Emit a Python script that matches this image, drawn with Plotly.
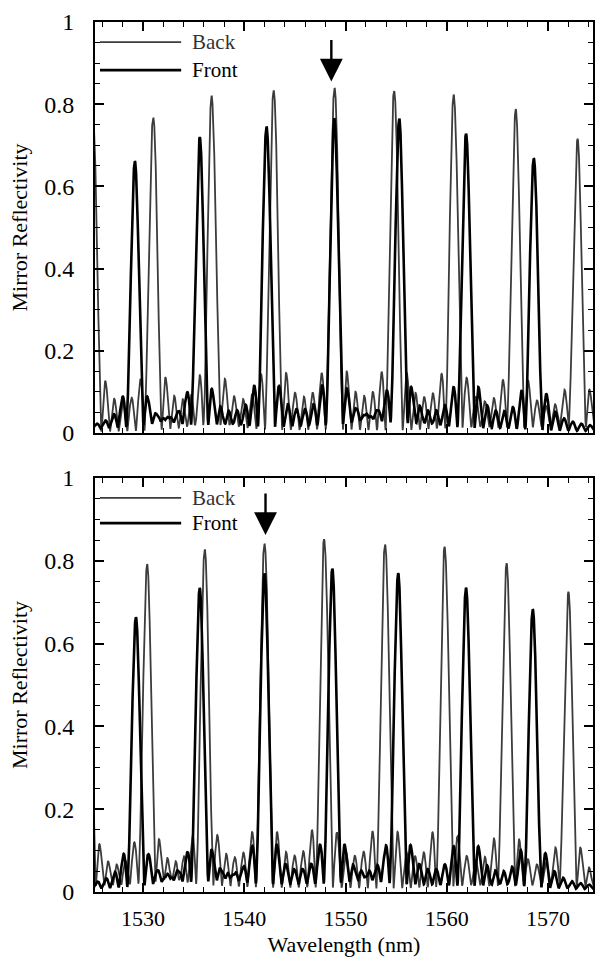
import numpy as np
import plotly.graph_objects as go
from plotly.subplots import make_subplots

# ---- data (peak wavelengths in nm, peak reflectivity) ----
top_back_centers = [1525.05, 1531.0, 1536.8, 1542.9, 1548.9, 1554.8, 1560.7, 1566.8, 1572.9]
top_back_heights = [0.76, 0.76, 0.80, 0.825, 0.83, 0.825, 0.81, 0.775, 0.70]
top_front_centers = [1529.2, 1535.6, 1542.2, 1548.9, 1555.3, 1561.9, 1568.6]
top_front_heights = [0.645, 0.70, 0.73, 0.745, 0.74, 0.715, 0.66]

bot_back_centers = [1524.5, 1530.4, 1536.1, 1542.0, 1547.9, 1553.9, 1559.8, 1565.9, 1572.0]
bot_back_heights = [0.72, 0.77, 0.81, 0.83, 0.84, 0.83, 0.82, 0.78, 0.71]
bot_front_centers = [1529.3, 1535.6, 1542.0, 1548.7, 1555.2, 1561.9, 1568.5]
bot_front_heights = [0.65, 0.71, 0.75, 0.76, 0.75, 0.72, 0.67]

arrow_top = (1548.6, 0.96, 0.855)      # x, tail y, tip y
arrow_bot = (1542.1, 0.966, 0.862)

x_ticks = [1530, 1540, 1550, 1560, 1570]
y_ticks = [0, 0.2, 0.4, 0.6, 0.8, 1]
y_tick_text = ["0", "0.2", "0.4", "0.6", "0.8", "1"]
series_names = ["Back", "Front"]

# channel line shape (grating-like main lobe with side lobes)
LOBE_WIDTH = 0.85
LOBE_POWER = 1.35
lam = np.arange(1524.0, 1576.0, 0.01)


def spectrum(centers, heights):
    r = np.zeros_like(lam)
    for c, h in zip(centers, heights):
        r += h * np.abs(np.sinc((lam - c) / LOBE_WIDTH)) ** LOBE_POWER
    return r


FONT = "Liberation Serif, Times New Roman, serif"
X_RANGE = [1525.26, 1574.44]
BACK_COLOR = "#3c3c3c"
XTICK_FONT = dict(family=FONT, size=22, color="black")
YTICK_FONT = dict(family=FONT, size=24, color="black")
TITLE_FONT = dict(family=FONT, size=22, color="black")

fig = make_subplots(rows=2, cols=1, shared_xaxes=False, vertical_spacing=0.0)

panels = [
    (1, top_back_centers, top_back_heights, top_front_centers, top_front_heights),
    (2, bot_back_centers, bot_back_heights, bot_front_centers, bot_front_heights),
]

for row, bc, bh, fc, fh in panels:
    fig.add_trace(go.Scatter(x=lam, y=spectrum(bc, bh), mode="lines", name=series_names[0],
                             line=dict(color=BACK_COLOR, width=1.8), showlegend=False,
                             hoverinfo="skip"), row=row, col=1)
    fig.add_trace(go.Scatter(x=lam, y=spectrum(fc, fh), mode="lines", name=series_names[1],
                             line=dict(color="black", width=2.6), showlegend=False,
                             hoverinfo="skip"), row=row, col=1)

fig.update_layout(
    width=595, height=959,
    margin=dict(l=95, r=2, t=22, b=67),
    paper_bgcolor="white", plot_bgcolor="white",
    font=dict(family=FONT, size=21, color="black"),
    yaxis=dict(domain=[0.5276, 1.0]),
    yaxis2=dict(domain=[0.0, 0.4759]),
)

axis_common = dict(
    showline=True, linecolor="black", linewidth=2, mirror="allticks",
    ticks="inside", ticklen=9, tickwidth=1.5, tickcolor="black",
    showgrid=False, zeroline=False, automargin=False,
)

for row in (1, 2):
    fig.update_xaxes(range=X_RANGE, tickvals=x_ticks, showticklabels=(row == 2),
                     minor=dict(dtick=2, ticks="inside", ticklen=5, tickwidth=1, tickcolor="black"),
                     ticklabelstandoff=6, tickfont=XTICK_FONT,
                     row=row, col=1, **axis_common)
    fig.update_yaxes(range=[0, 1], tickvals=y_ticks, ticktext=y_tick_text,
                     minor=dict(dtick=0.05, ticks="inside", ticklen=5, tickwidth=1, tickcolor="black"),
                     ticklabelstandoff=14, tickfont=YTICK_FONT,
                     title=dict(text="Mirror Reflectivity", font=TITLE_FONT, standoff=10),
                     row=row, col=1, **axis_common)

fig.update_xaxes(title=dict(text="Wavelength (nm)", font=TITLE_FONT, standoff=6), row=2, col=1)

# legends drawn as line samples + text inside each panel
legend_pos = {1: (0.951, 0.883), 2: (0.952, 0.891)}
for row, (yb, yf) in legend_pos.items():
    xr = "x domain" if row == 1 else "x2 domain"
    yr = "y" if row == 1 else "y2"
    for name, yy, col, wid in ((series_names[0], yb, BACK_COLOR, 1.8), (series_names[1], yf, "black", 2.6)):
        fig.add_shape(type="line", xref=xr, yref=yr, x0=0.01, x1=0.173, y0=yy, y1=yy,
                      line=dict(color=col, width=wid))
        fig.add_annotation(xref=xr, yref=yr, x=0.19, y=yy, text=name, showarrow=False,
                           xanchor="left", yanchor="middle",
                           font=dict(family=FONT, size=21, color="#333" if name == "Back" else "black"))

# arrows marking the aligned channel
for row, (ax_, y0, y1) in ((1, arrow_top), (2, arrow_bot)):
    xr = "x" if row == 1 else "x2"
    yr = "y" if row == 1 else "y2"
    fig.add_annotation(x=ax_, y=y1, ax=ax_, ay=y0, xref=xr, yref=yr, axref=xr, ayref=yr,
                       text="", showarrow=True, arrowhead=2, arrowsize=1.9, arrowwidth=2.4,
                       arrowcolor="black")

fig.write_html("out.html", config={"displayModeBar": False},
               post_script="document.body.style.margin='0';document.body.style.overflow='hidden';")
